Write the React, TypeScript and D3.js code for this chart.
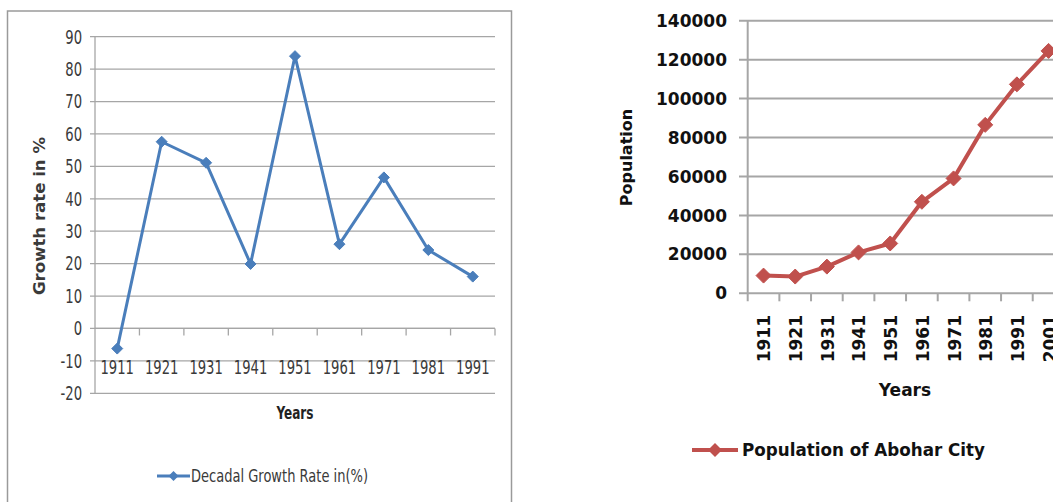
import React from "react";
import * as d3 from "d3";

// Decadal growth rate of Abohar (per cent)
const growthYears = ["1911", "1921", "1931", "1941", "1951", "1961", "1971", "1981", "1991"];
const growthRates = [-6.2, 57.6, 51.1, 19.9, 84.0, 26.0, 46.6, 24.2, 16.0];
const growthTicks = [-20, -10, 0, 10, 20, 30, 40, 50, 60, 70, 80, 90];

// Population of Abohar city by census year
const popYears = ["1911", "1921", "1931", "1941", "1951", "1961", "1971", "1981", "1991", "2001"];
const popValues = [9100, 8600, 13700, 21000, 25600, 47000, 59000, 86500, 107300, 124500];
const popTicks = [0, 20000, 40000, 60000, 80000, 100000, 120000, 140000];

const BLUE = "#4a7ebb";
const RED = "#c0504d";
const GRID = "#a6a6a6";
const INK = "#3a3a3a";
const narrow = "'DejaVu Sans Condensed', 'DejaVu Sans', sans-serif";
const wide = "'DejaVu Sans', Verdana, sans-serif";

// Excel-style diamond: a square turned 45 degrees
const diamond = (cx: number, cy: number, r: number) =>
  `M${cx},${cy - r}L${cx + r},${cy}L${cx},${cy + r}L${cx - r},${cy}Z`;

// Tall, narrow label text (horizontally squeezed)
function NarrowLabel(props: { x: number; y: number; anchor: string; children: React.ReactNode }) {
  return (
    <text
      transform={`translate(${props.x},${props.y}) scale(0.77,1)`}
      textAnchor={props.anchor}
      dy="0.36em"
      fontFamily={narrow}
      fontSize={19}
      fill={INK}
    >
      {props.children}
    </text>
  );
}

function GrowthChart() {
  const x = d3.scaleBand<string>().domain(growthYears).range([95, 495]);
  const y = d3.scaleLinear().domain([-20, 90]).range([393.3, 36.7]);
  const cx = (d: string) => (x(d) as number) + x.bandwidth() / 2;
  const line = d3
    .line<number>()
    .x((_, i) => cx(growthYears[i]))
    .y((v) => y(v));
  const y0 = y(0);
  return (
    <g>
      <rect x={7.5} y={11} width={504} height={500} fill="#fff" stroke="#9a9a9a" strokeWidth={1.5} />
      {growthTicks.map((t) => (
        <g key={t}>
          <line x1={90} x2={495} y1={y(t)} y2={y(t)} stroke={GRID} strokeWidth={1.3} />
          <NarrowLabel x={82} y={y(t)} anchor="end">
            {t}
          </NarrowLabel>
        </g>
      ))}
      <line x1={95} x2={95} y1={y(90)} y2={y(-20)} stroke={GRID} strokeWidth={1.3} />
      <line x1={95} x2={495} y1={y0} y2={y0} stroke={GRID} strokeWidth={1.3} />
      {growthYears.map((d) => (
        <line
          key={"t" + d}
          x1={(x(d) as number) + x.bandwidth()}
          x2={(x(d) as number) + x.bandwidth()}
          y1={y0}
          y2={y0 + 7}
          stroke={GRID}
          strokeWidth={1.3}
        />
      ))}
      {growthYears.map((d) => (
        <NarrowLabel key={"l" + d} x={cx(d)} y={367} anchor="middle">
          {d}
        </NarrowLabel>
      ))}
      <path d={line(growthRates) as string} fill="none" stroke={BLUE} strokeWidth={3} strokeLinejoin="round" />
      {growthRates.map((v, i) => (
        <path key={"m" + i} d={diamond(cx(growthYears[i]), y(v), 5.5)} fill={BLUE} stroke={BLUE} strokeWidth={1} />
      ))}
      <text
        transform={`translate(39,216) rotate(-90)`}
        textAnchor="middle"
        dy="0.35em"
        fontFamily={narrow}
        fontWeight="bold"
        fontSize={16}
        textLength={158}
        lengthAdjust="spacingAndGlyphs"
        fill={INK}
      >
        Growth rate in %
      </text>
      <text
        x={276.5}
        y={413}
        dy="0.35em"
        fontFamily={narrow}
        fontWeight="bold"
        fontSize={18}
        textLength={37}
        lengthAdjust="spacingAndGlyphs"
        fill="#222"
      >
        Years
      </text>
      <line x1={157} x2={190} y1={476} y2={476} stroke={BLUE} strokeWidth={3} />
      <path d={diamond(173.5, 476, 5)} fill={BLUE} />
      <text
        x={191}
        y={476}
        dy="0.35em"
        fontFamily={narrow}
        fontSize={18}
        textLength={177}
        lengthAdjust="spacingAndGlyphs"
        fill={INK}
      >
        Decadal Growth Rate in(%)
      </text>
    </g>
  );
}

function PopulationChart() {
  const x = d3.scaleBand<string>().domain(popYears).range([747.7, 1064.4]);
  const y = d3.scaleLinear().domain([0, 140000]).range([293.3, 20.7]);
  const cx = (d: string) => (x(d) as number) + x.bandwidth() / 2;
  const line = d3
    .line<number>()
    .x((_, i) => cx(popYears[i]))
    .y((v) => y(v));
  const y0 = y(0);
  return (
    <g>
      {popTicks.map((t) => (
        <g key={t}>
          <line x1={739} x2={1064} y1={y(t)} y2={y(t)} stroke={GRID} strokeWidth={2} />
          <text x={727} y={y(t)} dy="0.36em" textAnchor="end" fontFamily={wide} fontWeight="bold" fontSize={17} fill="#111">
            {t}
          </text>
        </g>
      ))}
      <line x1={747.7} x2={747.7} y1={y(140000)} y2={y0 + 8} stroke={GRID} strokeWidth={2} />
      {popYears.map((d) => (
        <line
          key={"t" + d}
          x1={(x(d) as number) + x.bandwidth()}
          x2={(x(d) as number) + x.bandwidth()}
          y1={y0}
          y2={y0 + 8}
          stroke={GRID}
          strokeWidth={2}
        />
      ))}
      {popYears.map((d) => (
        <text
          key={"l" + d}
          transform={`translate(${cx(d) + 1},315) rotate(-90)`}
          textAnchor="end"
          dy="0.35em"
          fontFamily={wide}
          fontWeight="bold"
          fontSize={17}
          fill="#111"
        >
          {d}
        </text>
      ))}
      <path d={line(popValues) as string} fill="none" stroke={RED} strokeWidth={4} strokeLinejoin="round" />
      {popValues.map((v, i) => (
        <path key={"m" + i} d={diamond(cx(popYears[i]), y(v), 7.5)} fill={RED} stroke={RED} strokeWidth={1} />
      ))}
      <text
        transform={`translate(626,157.5) rotate(-90)`}
        textAnchor="middle"
        dy="0.35em"
        fontFamily={wide}
        fontWeight="bold"
        fontSize={16}
        fill="#111"
      >
        Population
      </text>
      <text x={905} y={390} dy="0.35em" textAnchor="middle" fontFamily={wide} fontWeight="bold" fontSize={17} fill="#111">
        Years
      </text>
      <line x1={692} x2={738} y1={450} y2={450} stroke={RED} strokeWidth={4} />
      <path d={diamond(715, 450, 7)} fill={RED} />
      <text
        x={742}
        y={450}
        dy="0.35em"
        fontFamily={wide}
        fontWeight="bold"
        fontSize={17}
        textLength={243}
        lengthAdjust="spacingAndGlyphs"
        fill="#111"
      >
        Population of Abohar City
      </text>
    </g>
  );
}

export default function App() {
  return (
    <svg
      width={1053}
      height={502}
      viewBox="0 0 1053 502"
      style={{ position: "absolute", left: 0, top: 0, background: "#fff" }}
    >
      <rect width={1053} height={502} fill="#fff" />
      <GrowthChart />
      <PopulationChart />
    </svg>
  );
}
